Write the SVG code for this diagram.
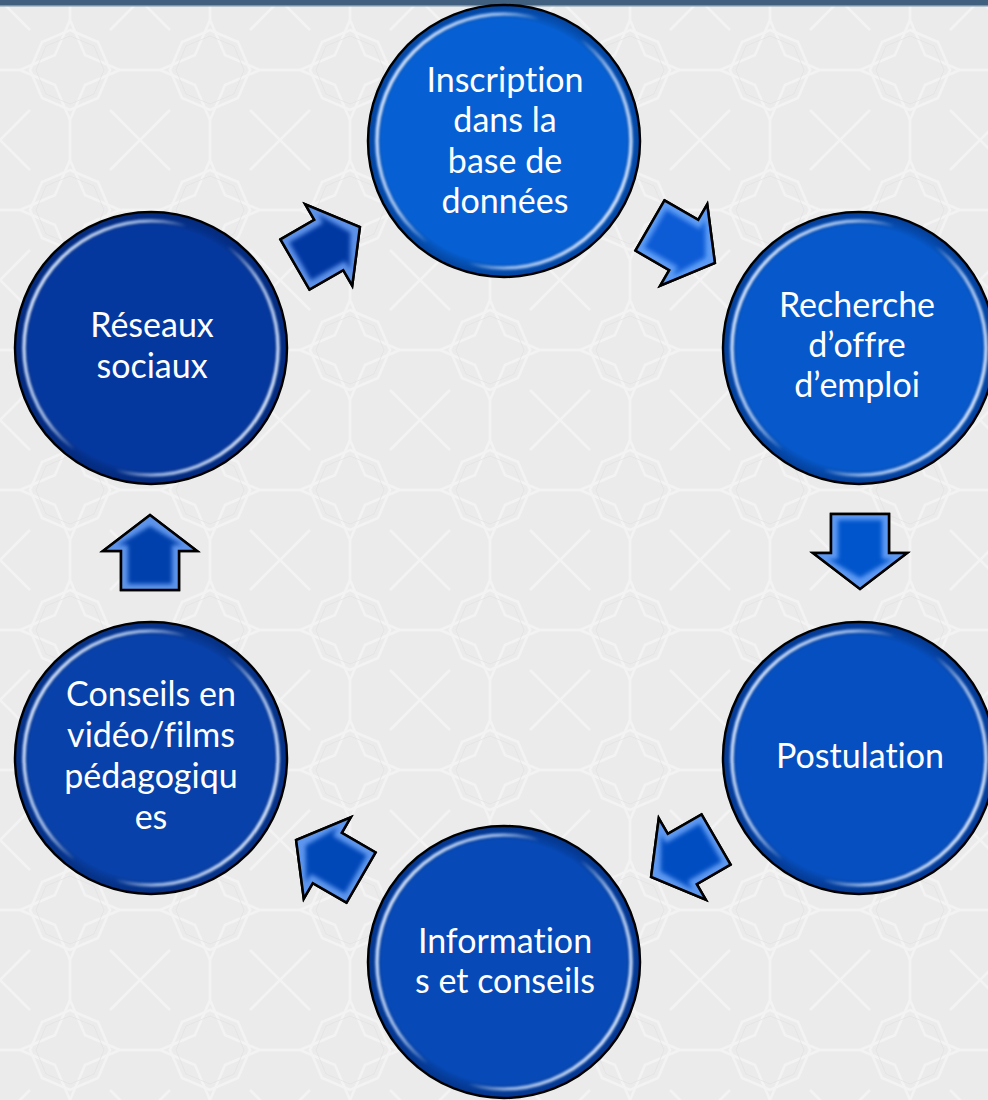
<svg xmlns="http://www.w3.org/2000/svg" width="988" height="1100" viewBox="0 0 988 1100">
<defs>
  <pattern id="bgpat" width="140" height="140" patternUnits="userSpaceOnUse">
    <rect width="140" height="140" fill="#ebebeb"/>
    <g fill="none" stroke="#f5f5f5" stroke-width="2.5" opacity="0.8">
      <polygon points="70,30 98,42 110,70 98,98 70,110 42,98 30,70 42,42"/>
      <polygon points="70,20 85,55 120,70 85,85 70,120 55,85 20,70 55,55"/>
      <path d="M0,0 L30,30 M140,0 L110,30 M0,140 L30,110 M140,140 L110,110 M70,0 L70,20 M0,70 L20,70 M140,70 L120,70 M70,140 L70,120"/>
    </g>
    <g fill="none" stroke="#e1e1e1" stroke-width="1" opacity="0.7">
      <polygon points="70,36 94,46 104,70 94,94 70,104 46,94 36,70 46,46"/>
    </g>
  </pattern>
  <radialGradient id="rim" cx="0.5" cy="0.5" r="0.5">
    <stop offset="0" stop-color="#000" stop-opacity="0"/>
    <stop offset="0.9" stop-color="#000" stop-opacity="0"/>
    <stop offset="1" stop-color="#001040" stop-opacity="0.35"/>
  </radialGradient>
  <linearGradient id="hls" x1="0" y1="0.25" x2="1" y2="0.75">
    <stop offset="0" stop-color="#e6f0ff" stop-opacity="0.95"/>
    <stop offset="0.28" stop-color="#cfe2ff" stop-opacity="0.7"/>
    <stop offset="0.42" stop-color="#ffffff" stop-opacity="0"/>
    <stop offset="0.58" stop-color="#ffffff" stop-opacity="0"/>
    <stop offset="0.72" stop-color="#cfe2ff" stop-opacity="0.7"/>
    <stop offset="1" stop-color="#e6f0ff" stop-opacity="0.95"/>
  </linearGradient>
  <filter id="soft" x="-20%" y="-20%" width="140%" height="140%">
    <feGaussianBlur stdDeviation="2.2"/>
  </filter>
  <filter id="soft1" x="-10%" y="-10%" width="120%" height="120%">
    <feGaussianBlur stdDeviation="1.2"/>
  </filter>
  <polygon id="arr" points="-37,-29 2,-29 2,-47 38,0 2,47 2,29 -37,29"/>
  <polygon id="arrIn" points="-31,-22 8,-22 8,-32 27,0 8,32 8,22 -31,22"/>
</defs>
<style>
  .node circle.base { stroke: #000; stroke-width: 2.5; }
  .node circle.rim { fill: url(#rim); }
  .node circle.hl { fill: none; stroke: url(#hls); stroke-width: 3.5; filter: url(#soft1); }
  .node text { font-family: Lato, "Open Sans", "Liberation Sans", sans-serif; font-size: 34px; fill: #ffffff; text-anchor: middle; font-variant-ligatures: none; font-feature-settings: "liga" 0; }
  .conn .o { stroke: #000; stroke-width: 2.5; stroke-linejoin: miter; }
  .conn .e { fill: #79b0ff; opacity: 0.75; }
  .conn .i { filter: url(#soft); }
</style>

<rect width="988" height="1100" fill="url(#bgpat)"/>
<rect width="988" height="6" fill="#41607f"/>
<rect y="5" width="988" height="1.5" fill="#7d93aa"/>

<g id="connectors" class="conn">
  <g transform="translate(327,246) rotate(-30)">
    <use href="#arr" class="o" fill="#0a3aa6"/>
    <use href="#arr" class="e"/>
    <use href="#arrIn" class="i" fill="#0638a2"/>
    <use href="#arr" fill="none" stroke="#000" stroke-width="2.5"/>
  </g>
  <g transform="translate(682,244) rotate(30)">
    <use href="#arr" class="o" fill="#0a5ed8"/>
    <use href="#arr" class="e"/>
    <use href="#arrIn" class="i" fill="#075cd6"/>
    <use href="#arr" fill="none" stroke="#000" stroke-width="2.5"/>
  </g>
  <g transform="translate(860,551) rotate(90)">
    <use href="#arr" class="o" fill="#0a56d0"/>
    <use href="#arr" class="e"/>
    <use href="#arrIn" class="i" fill="#0654cc"/>
    <use href="#arr" fill="none" stroke="#000" stroke-width="2.5"/>
  </g>
  <g transform="translate(684,858) rotate(150)">
    <use href="#arr" class="o" fill="#0a50c6"/>
    <use href="#arr" class="e"/>
    <use href="#arrIn" class="i" fill="#064dc2"/>
    <use href="#arr" fill="none" stroke="#000" stroke-width="2.5"/>
  </g>
  <g transform="translate(329,859) rotate(210)">
    <use href="#arr" class="o" fill="#0a48bc"/>
    <use href="#arr" class="e"/>
    <use href="#arrIn" class="i" fill="#0646b8"/>
    <use href="#arr" fill="none" stroke="#000" stroke-width="2.5"/>
  </g>
  <g transform="translate(150,553) rotate(-90)">
    <use href="#arr" class="o" fill="#0a41b0"/>
    <use href="#arr" class="e"/>
    <use href="#arrIn" class="i" fill="#063fac"/>
    <use href="#arr" fill="none" stroke="#000" stroke-width="2.5"/>
  </g>
</g>

<g id="node-inscription" class="node">
  <circle class="base" cx="504" cy="141" r="136" fill="#0660d4"/>
  <circle class="rim" cx="504" cy="141" r="135"/>
  <circle class="hl" cx="504" cy="141" r="127"/>
  <text x="505" y="92">Inscription</text>
  <text x="505" y="132">dans la</text>
  <text x="505" y="173">base de</text>
  <text x="505" y="213">données</text>
</g>

<g id="node-recherche" class="node">
  <circle class="base" cx="859" cy="348" r="136" fill="#0658cb"/>
  <circle class="rim" cx="859" cy="348" r="135"/>
  <circle class="hl" cx="859" cy="348" r="127"/>
  <text x="857" y="317">Recherche</text>
  <text x="857" y="357">d’offre</text>
  <text x="857" y="397">d’emploi</text>
</g>

<g id="node-postulation" class="node">
  <circle class="base" cx="859" cy="758" r="136" fill="#064fc0"/>
  <circle class="rim" cx="859" cy="758" r="135"/>
  <circle class="hl" cx="859" cy="758" r="127"/>
  <text x="860" y="768">Postulation</text>
</g>

<g id="node-information" class="node">
  <circle class="base" cx="504" cy="962" r="136" fill="#0649b7"/>
  <circle class="rim" cx="504" cy="962" r="135"/>
  <circle class="hl" cx="504" cy="962" r="127"/>
  <text x="505" y="953">Information</text>
  <text x="505" y="993">s et conseils</text>
</g>

<g id="node-conseils" class="node">
  <circle class="base" cx="151" cy="758" r="136" fill="#0841aa"/>
  <circle class="rim" cx="151" cy="758" r="135"/>
  <circle class="hl" cx="151" cy="758" r="127"/>
  <text x="151" y="706">Conseils en</text>
  <text x="151" y="747">vidéo/films</text>
  <text x="151" y="788">pédagogiqu</text>
  <text x="151" y="829">es</text>
</g>

<g id="node-reseaux" class="node">
  <circle class="base" cx="151" cy="348" r="136" fill="#05389f"/>
  <circle class="rim" cx="151" cy="348" r="135"/>
  <circle class="hl" cx="151" cy="348" r="127"/>
  <text x="152" y="337">Réseaux</text>
  <text x="152" y="378">sociaux</text>
</g>
</svg>
